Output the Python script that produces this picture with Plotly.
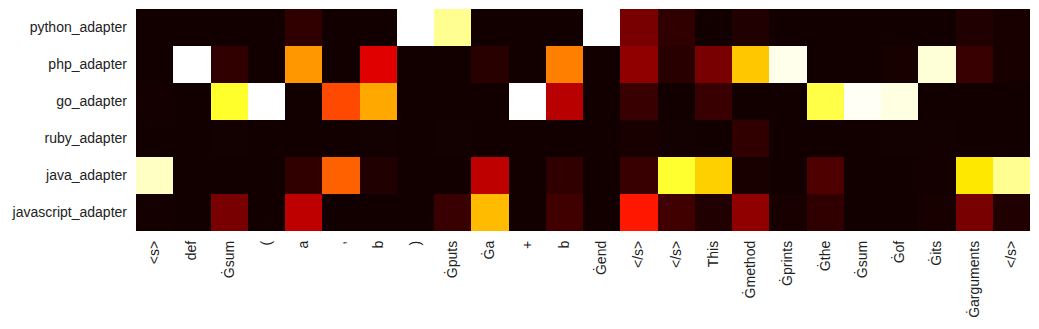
"""Adapter attention heatmap over code/doc tokens (hot colormap)."""

import plotly.graph_objects as go

tokens = [
    "<s>", "def", "Ġsum", "(", "a", ",", "b", ")", "Ġputs", "Ġa", "+", "b",
    "Ġend", "</s>", "</s>", "This", "Ġmethod", "Ġprints", "Ġthe", "Ġsum",
    "Ġof", "Ġits", "Ġarguments", "</s>",
]
adapters = [
    "python_adapter", "php_adapter", "go_adapter",
    "ruby_adapter", "java_adapter", "javascript_adapter",
]

python_vals = [0.01, 0.01, 0.01, 0.01, 0.056, 0.01, 0.01, 1.0, 0.89, 0.01, 0.01, 0.01,
               1.0, 0.163, 0.056, 0.01, 0.032, 0.01, 0.01, 0.01, 0.01, 0.01, 0.032, 0.02]
php_vals = [0.01, 1.0, 0.056, 0.01, 0.59, 0.01, 0.32, 0.01, 0.01, 0.044, 0.01, 0.555,
            0.01, 0.2, 0.044, 0.163, 0.663, 0.98, 0.01, 0.01, 0.02, 0.96, 0.068, 0.02]
go_vals = [0.015, 0.01, 0.79, 1.0, 0.01, 0.472, 0.616, 0.01, 0.01, 0.01, 1.0, 0.26,
           0.01, 0.068, 0.01, 0.068, 0.01, 0.01, 0.817, 0.99, 0.97, 0.01, 0.01, 0.01]
ruby_vals = [0.01, 0.01, 0.012, 0.01, 0.01, 0.01, 0.012, 0.01, 0.012, 0.01, 0.01, 0.01,
             0.01, 0.02, 0.012, 0.01, 0.056, 0.01, 0.01, 0.01, 0.012, 0.012, 0.01, 0.01]
java_vals = [0.94, 0.01, 0.01, 0.01, 0.056, 0.508, 0.032, 0.01, 0.01, 0.27, 0.01, 0.056,
             0.01, 0.068, 0.794, 0.676, 0.02, 0.01, 0.10, 0.01, 0.01, 0.015, 0.712, 0.89]
js_vals = [0.015, 0.01, 0.163, 0.01, 0.27, 0.01, 0.01, 0.01, 0.068, 0.645, 0.01, 0.08,
           0.01, 0.40, 0.08, 0.032, 0.2, 0.02, 0.056, 0.01, 0.01, 0.02, 0.163, 0.032]

# matplotlib "hot"
HOT = [
    [0.0, "rgb(11,0,0)"],
    [0.365, "rgb(255,0,0)"],
    [0.746, "rgb(255,255,0)"],
    [1.0, "rgb(255,255,255)"],
]

z = [python_vals, php_vals, go_vals, ruby_vals, java_vals, js_vals]
xs = list(range(len(tokens)))
# plotly reads "<s>" as markup, so escape the angle brackets
tick_text = [t.replace("<", "&lt;").replace(">", "&gt;") for t in tokens]

fig = go.Figure(go.Heatmap(
    z=z, x=xs, y=adapters,
    colorscale=HOT, zmin=0, zmax=1,
    showscale=False,
))
# page body adds an 8px margin, so the figure is 8px smaller than the window
fig.update_layout(
    width=1031, height=321,
    margin=dict(l=128, r=9, t=1, b=98),
    paper_bgcolor="white", plot_bgcolor="white",
    font=dict(family="Liberation Sans, Arial, sans-serif", size=14, color="#222"),
    xaxis=dict(
        tickvals=xs, ticktext=tick_text, tickangle=-90,
        showgrid=False, zeroline=False, ticks="", ticklen=0,
        range=[-0.5, len(tokens) - 0.5], automargin=False,
        ticklabelstandoff=6,
    ),
    yaxis=dict(
        autorange="reversed", showgrid=False, zeroline=False,
        ticks="", ticklen=0, automargin=False, ticklabelstandoff=8,
    ),
)
fig.write_html("out.html")
